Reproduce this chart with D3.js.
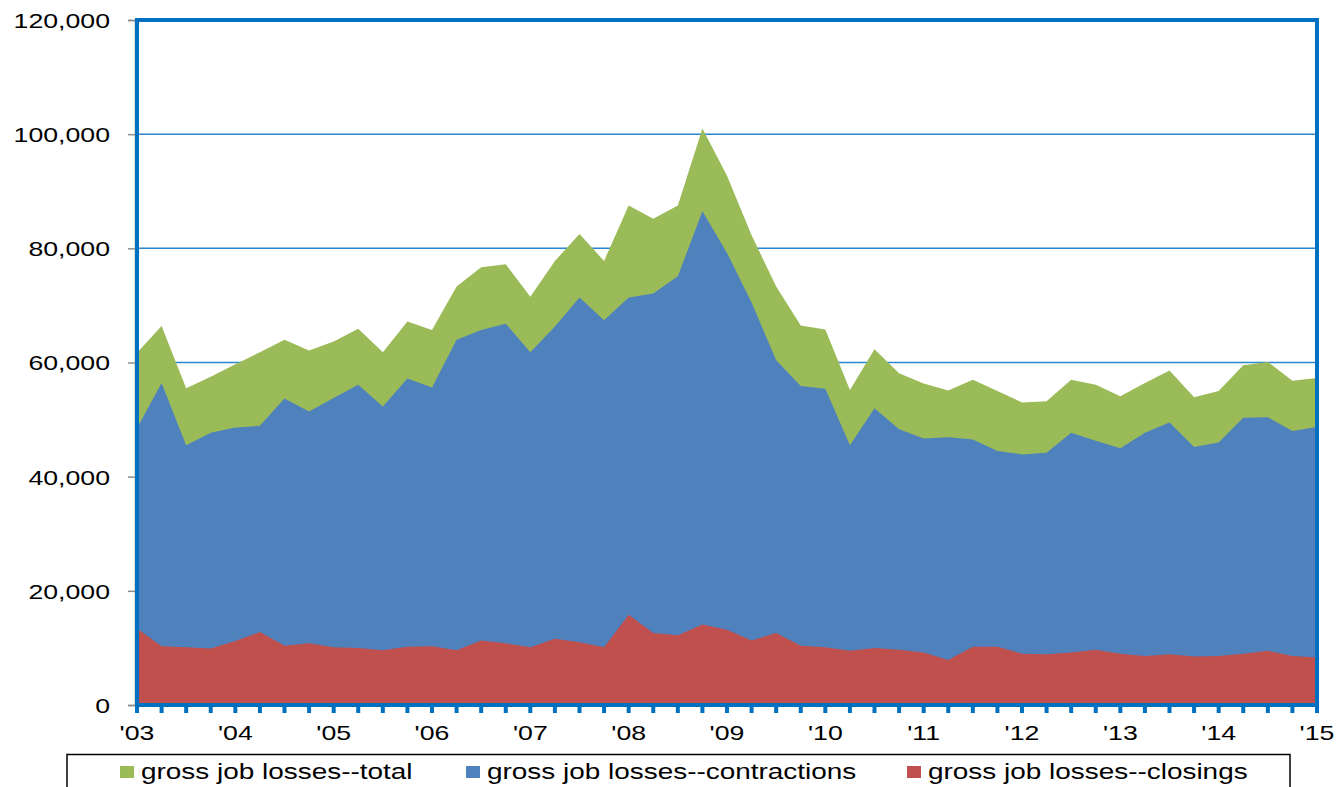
<!DOCTYPE html>
<html>
<head>
<meta charset="utf-8">
<script src="https://cdn.jsdelivr.net/npm/d3@7"></script>
<style>
  html, body { margin: 0; padding: 0; background: #fff; }
  svg { display: block; font-family: "Liberation Sans", Arial, sans-serif; }
</style>
</head>
<body>
<div id="chart"></div>
<script>
// quarterly data, 2003 Q1 .. 2015 Q1
const quarters = d3.range(49);
const yearLabels = ["'03", "'04", "'05", "'06", "'07", "'08", "'09", "'10", "'11", "'12", "'13", "'14", "'15"];

const total = [
  61700, 66400, 55500, 57500, 59700, 61800, 64000, 62100, 63700, 65900, 61800, 67200,
  65700, 73300, 76700, 77200, 71500, 77800, 82500, 77800, 87500, 85200, 87500, 101000,
  92700, 82300, 73300, 66500, 65800, 55200, 62300, 58100, 56300, 55100, 57000, 55000,
  53000, 53200, 57000, 56100, 54100, 56400, 58600, 53900, 55000, 59500, 60100, 56800,
  57300
];
const contractions = [
  48500, 56400, 45500, 47700, 48600, 48900, 53700, 51400, 53800, 56100, 52300, 57200,
  55600, 64000, 65700, 66800, 61800, 66300, 71400, 67400, 71400, 72100, 75100, 86500,
  79200, 70500, 60400, 55900, 55400, 45500, 52000, 48300, 46700, 46900, 46500, 44500,
  43900, 44200, 47700, 46300, 45000, 47700, 49500, 45200, 46000, 50300, 50400, 48000,
  48700
];
const closings = [
  13400, 10300, 10100, 9900, 11200, 12800, 10400, 10800, 10100, 10000, 9600, 10200,
  10300, 9600, 11300, 10800, 10100, 11600, 11000, 10100, 15800, 12600, 12200, 14100,
  13200, 11300, 12600, 10400, 10100, 9500, 10000, 9700, 9200, 7900, 10200, 10200,
  9000, 8900, 9200, 9700, 9000, 8600, 8900, 8500, 8600, 9000, 9500, 8600,
  8300
];
const yTicks = [0, 20000, 40000, 60000, 80000, 100000, 120000];

const seriesNames = ["gross job losses--total", "gross job losses--contractions", "gross job losses--closings"];
const seriesColors = ["#9BBB59", "#4F81BD", "#C0504D"];
const series = [total, contractions, closings];

const width = 1343, height = 787;
const frameBlue = "#0070C0";
const stretch = 1.27; // the source text is drawn wide

const x = d3.scaleLinear().domain([0, 48]).range([137, 1317]);
const y = d3.scaleLinear().domain([0, 120000]).range([705, 20]);

const svg = d3.create("svg")
    .attr("width", width)
    .attr("height", height)
    .attr("viewBox", [0, 0, width, height]);

// gridlines
svg.append("g")
    .selectAll("line")
    .data(yTicks.filter(d => d > 0 && d < 120000))
    .join("line")
    .attr("x1", x(0))
    .attr("x2", x(48))
    .attr("y1", d => y(d))
    .attr("y2", d => y(d))
    .attr("stroke", "#2B86CF")
    .attr("stroke-width", 1.5);

// areas, drawn over each other (total behind)
const area = d3.area()
    .x((d, i) => x(i))
    .y0(y(0))
    .y1(d => y(d));

svg.append("g")
    .selectAll("path")
    .data(series)
    .join("path")
    .attr("fill", (d, i) => seriesColors[i])
    .attr("d", d => area(d));

// y axis (grey ticks)
const yAxis = d3.axisLeft(y)
    .tickValues(yTicks)
    .tickSize(7)
    .tickFormat(d3.format(","));

svg.append("g")
    .attr("transform", `translate(${x(0) - 2},0)`)
    .call(yAxis)
    .call(g => g.select(".domain").attr("stroke", "#8c8c8c").attr("stroke-width", 1.5))
    .call(g => g.selectAll(".tick line").attr("stroke", "#8c8c8c").attr("stroke-width", 1.5))
    .call(g => g.selectAll(".tick text")
        .attr("x", -25 / stretch)
        .attr("dy", "0.35em")
        .attr("transform", `scale(${stretch},1)`)
        .attr("fill", "#000")
        .attr("font-size", 21)
        .attr("font-family", "'Liberation Sans', Arial, sans-serif"));

// frame
svg.append("rect")
    .attr("x", x(0))
    .attr("y", y(120000))
    .attr("width", x(48) - x(0))
    .attr("height", y(0) - y(120000))
    .attr("fill", "none")
    .attr("stroke", frameBlue)
    .attr("stroke-width", 4);

// quarter tick marks under the baseline
svg.append("g")
    .selectAll("rect")
    .data(quarters)
    .join("rect")
    .attr("x", d => x(d) - 2)
    .attr("y", y(0))
    .attr("width", 4)
    .attr("height", 8)
    .attr("fill", frameBlue);

// year labels
svg.append("g")
    .selectAll("text")
    .data(yearLabels)
    .join("text")
    .attr("transform", (d, i) => `translate(${x(i * 4)},740) scale(${stretch},1)`)
    .attr("text-anchor", "middle")
    .attr("font-size", 21)
    .text(d => d);

// legend
svg.append("rect")
    .attr("x", 67)
    .attr("y", 754.5)
    .attr("width", 1223)
    .attr("height", 50)
    .attr("fill", "#fff")
    .attr("stroke", "#000")
    .attr("stroke-width", 1.5);

const legendX = [120, 466, 907];
const legend = svg.append("g")
    .selectAll("g")
    .data(seriesNames)
    .join("g")
    .attr("transform", (d, i) => `translate(${legendX[i]},766)`);

legend.append("rect")
    .attr("width", 14)
    .attr("height", 12)
    .attr("fill", (d, i) => seriesColors[i]);

legend.append("text")
    .attr("transform", `translate(21,12.5) scale(${stretch},1)`)
    .attr("font-size", 22)
    .text(d => d);

document.getElementById("chart").appendChild(svg.node());
</script>
</body>
</html>
